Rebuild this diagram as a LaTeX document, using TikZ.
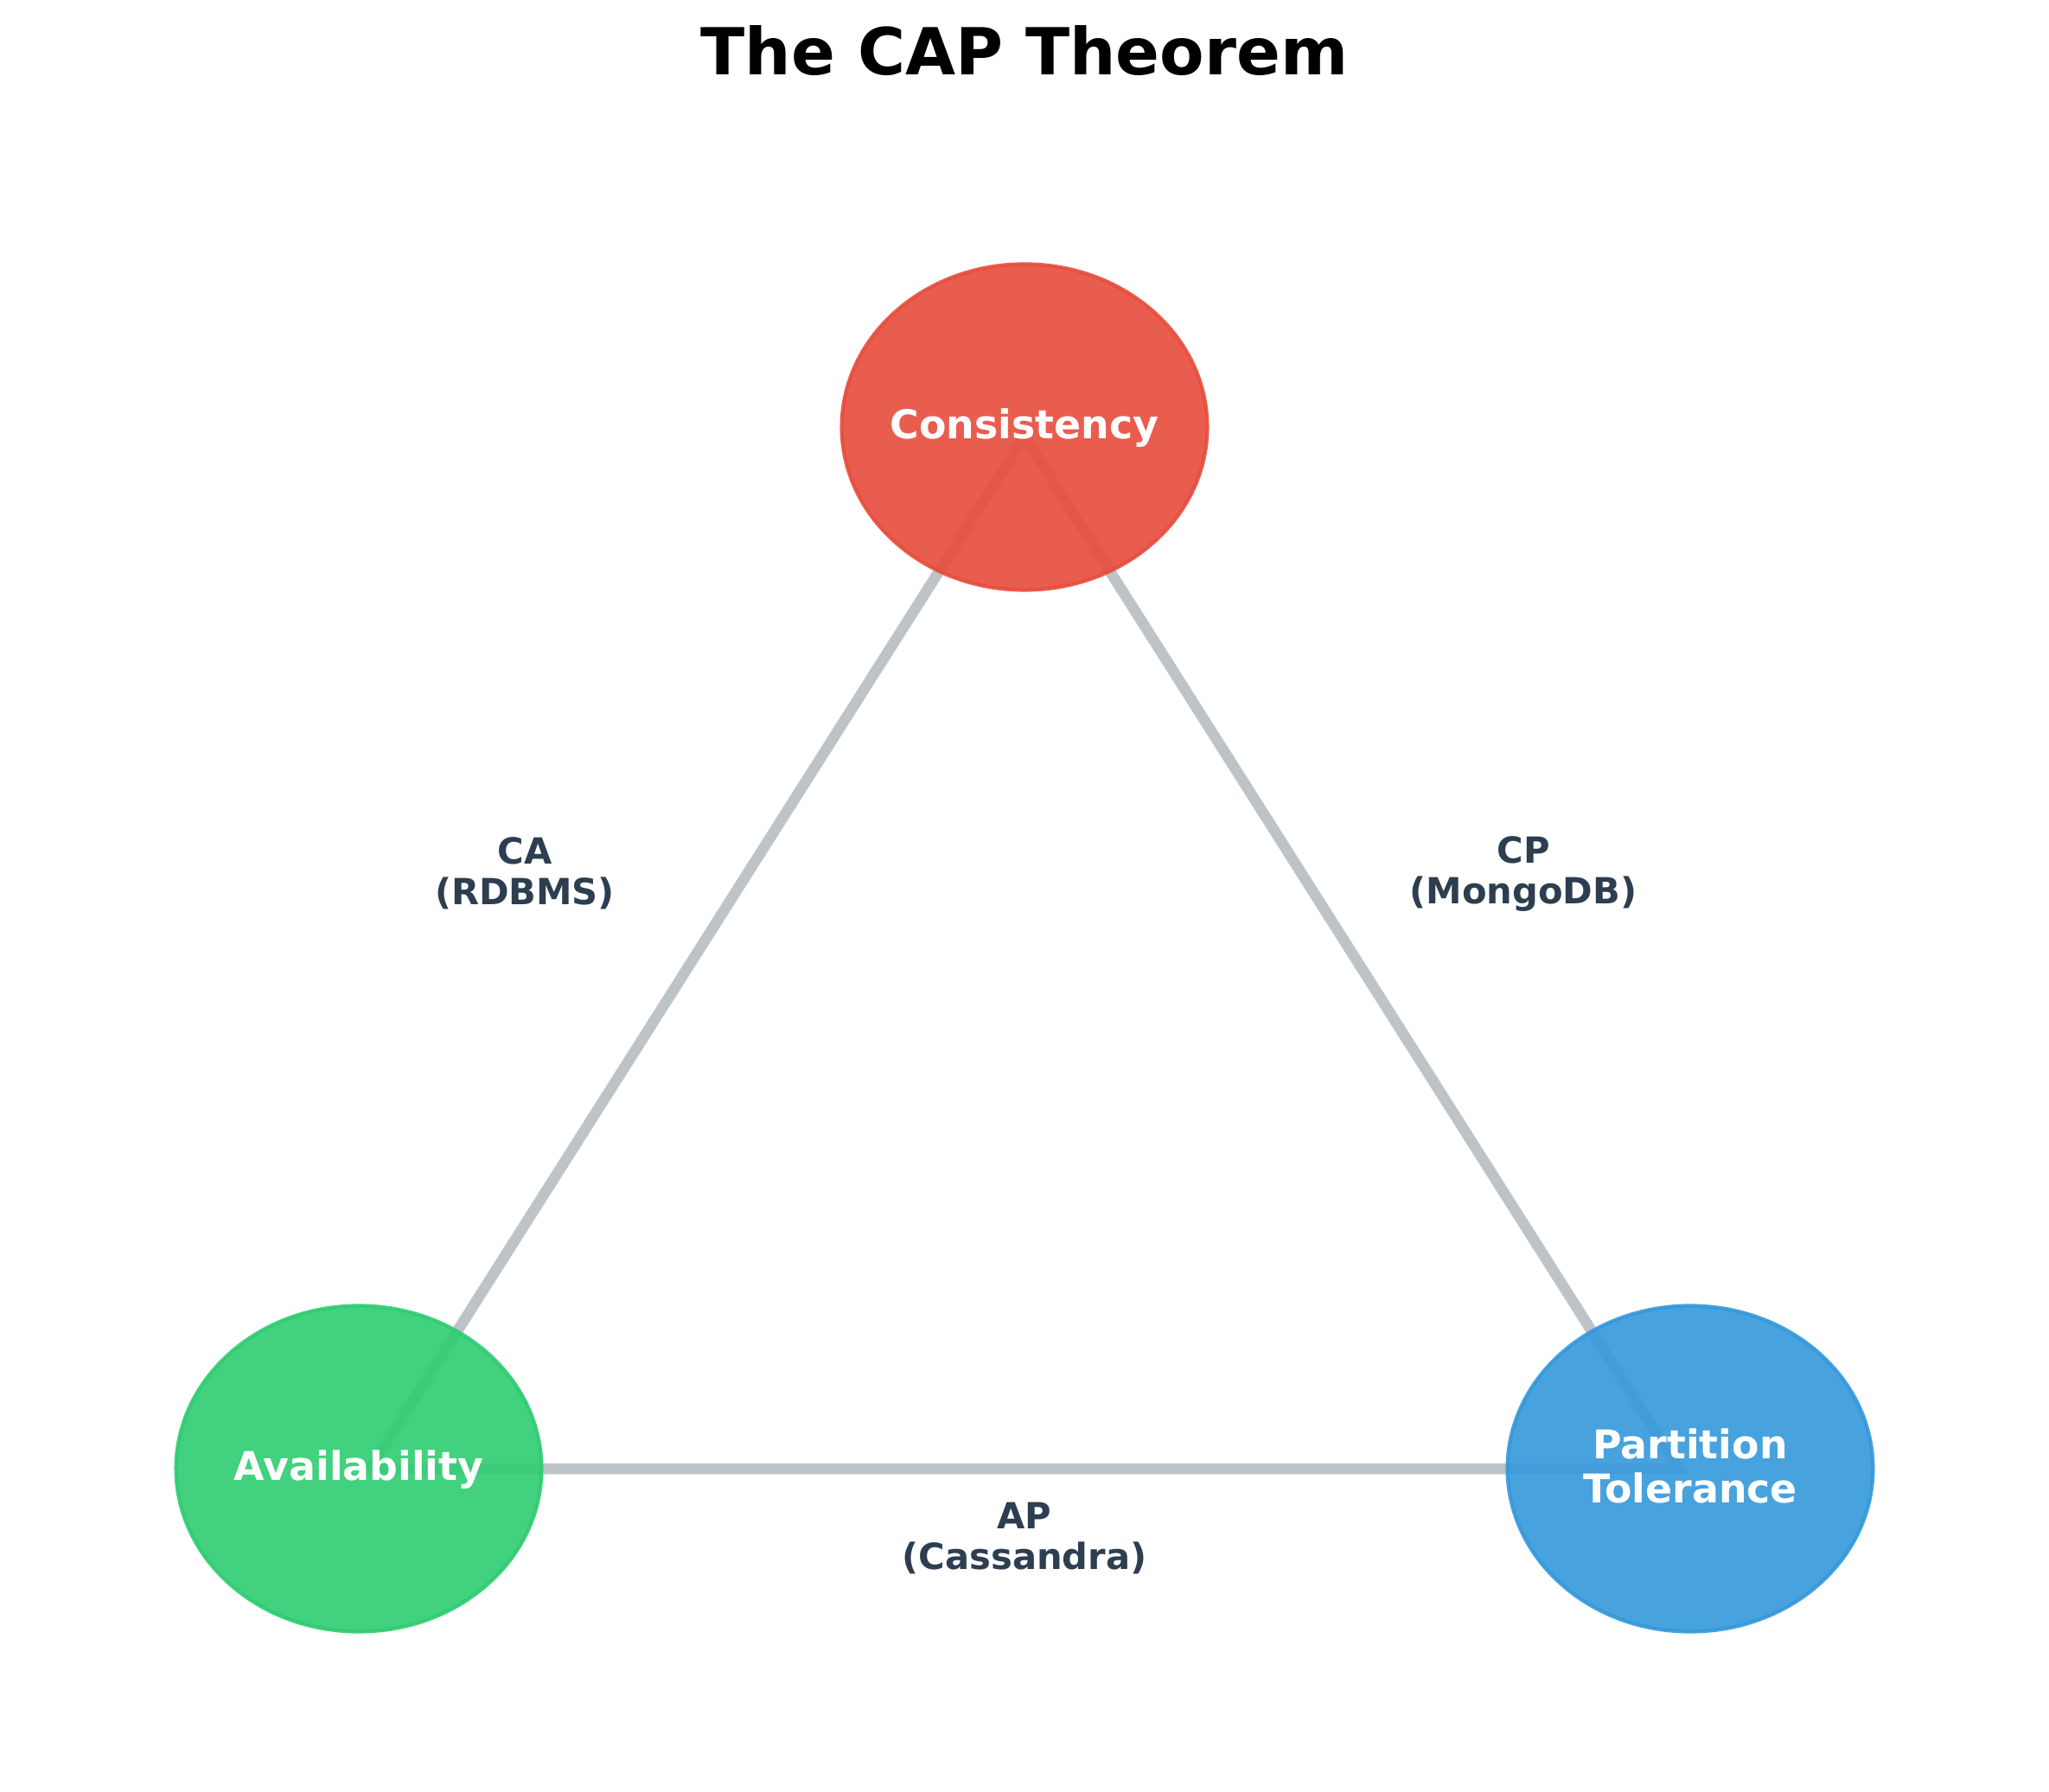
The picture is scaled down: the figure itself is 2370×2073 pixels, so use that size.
\documentclass[tikz,border=0pt]{standalone}
\usepackage{fontspec}
\setmainfont{DejaVu Sans}
\usetikzlibrary{shapes.geometric}
\definecolor{cred}{HTML}{E74C3C}
\definecolor{cgreen}{HTML}{2ECC71}
\definecolor{cblue}{HTML}{3498DB}
\definecolor{cgray}{HTML}{BDC3C7}
\definecolor{cdark}{HTML}{2C3E50}
\begin{document}
\begin{tikzpicture}[x=0.24pt,y=-0.24pt,
  blob/.style={ellipse, draw=#1, fill=#1, fill opacity=0.9, draw opacity=0.9,
    line width=1pt, minimum width=101.5pt, minimum height=90.5pt, inner sep=0pt},
  blobtext/.style={text=white, font=\fontsize{11}{12.3}\selectfont\bfseries, align=center, inner sep=0pt},
  sideline/.style={draw=cgray, line width=3pt, line join=miter},
  sidetext/.style={text=cdark, font=\fontsize{10}{11.3}\selectfont\bfseries, align=center, inner sep=0pt},
  titletext/.style={text=black, font=\fontsize{18}{20}\selectfont\bfseries, inner sep=0pt}]
\fill[white] (0,0) rectangle (2370,2073);
\useasboundingbox (0,0) rectangle (2370,2073);

\node[titletext, anchor=base] (title) at (1185,87) {The CAP Theorem};

% triangle vertices
\coordinate (vC) at (1185,505);
\coordinate (vA) at (428,1699);
\coordinate (vP) at (1942,1699);
\draw[sideline] (vC) -- (vA) -- (vP) -- cycle;

% ellipses
\node[blob=cred] (C) at (1185,494) {};
\node[blob=cgreen] (A) at (415,1699) {};
\node[blob=cblue] (P) at (1955,1699) {};

\node[blobtext, anchor=base] (Ct) at (1185,508) {Consistency};
\node[blobtext, anchor=base] (At) at (415,1712) {Availability};
\node[blobtext] (Pt) at (1955,1696) {Partition\\Tolerance};

% side labels
\node[sidetext] (CA) at (607,1010) {CA\\(RDBMS)};
\node[sidetext] (CP) at (1762,1011) {CP\\(MongoDB)};
\node[sidetext] (AP) at (1185,1780) {AP\\(Cassandra)};
\end{tikzpicture}
\end{document}
